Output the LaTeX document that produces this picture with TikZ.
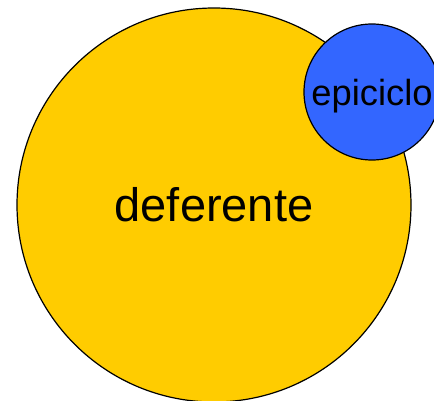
\documentclass[tikz,border=0pt]{standalone}
\usepackage{fontspec}
\setmainfont{Liberation Sans}

\definecolor{deferentyellow}{HTML}{FFCC00}
\definecolor{epicycleblue}{HTML}{3366FF}

\tikzset{
  orbit/.style={circle, draw=black, line width=1.2pt, inner sep=0pt},
  deferent/.style={orbit, fill=deferentyellow, minimum size=394pt,
    font=\fontsize{47}{50}\selectfont},
  epicycle/.style={orbit, fill=epicycleblue, minimum size=136pt,
    text depth=0pt, font=\fontsize{36.3}{40}\selectfont},
}

\begin{document}
\begin{tikzpicture}[x=1pt, y=-1pt]
      \useasboundingbox (0,0) rectangle (434,401);
      \clip (0,0) rectangle (434,401);

      \node[deferent] (def) at (214,205) {deferente};
      \node[epicycle] (epi) at (372,92) {epiciclo};
    \end{tikzpicture}
\end{document}
